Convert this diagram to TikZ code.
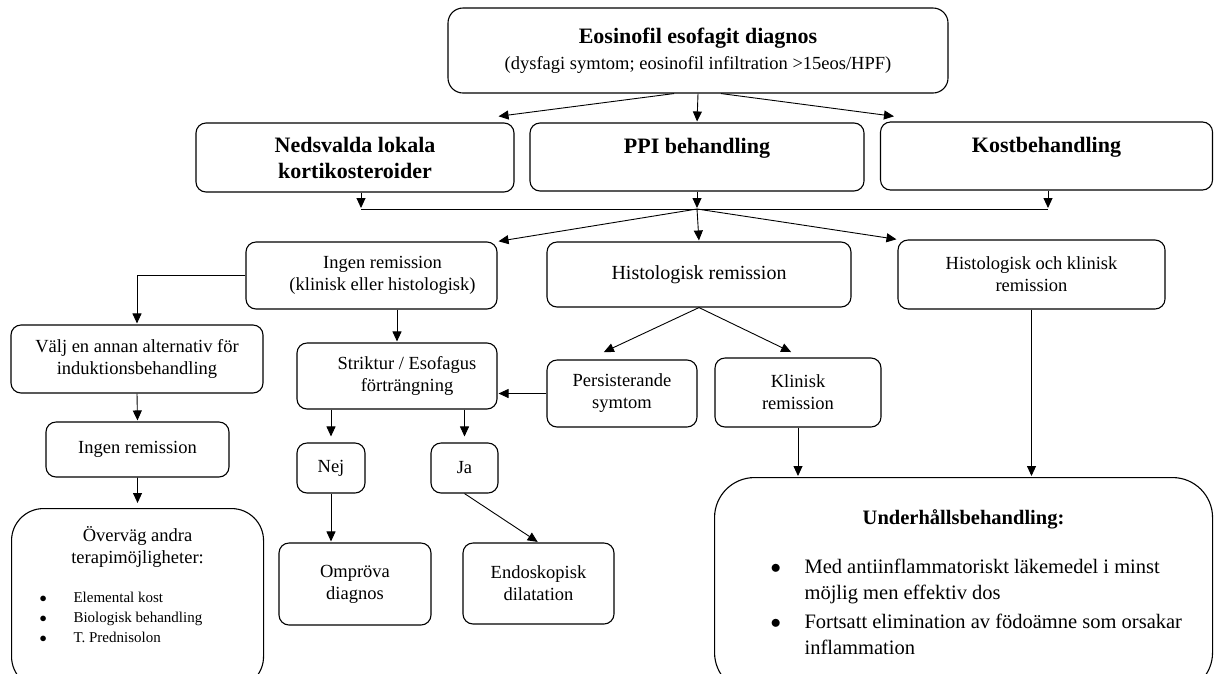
\documentclass[tikz,border=0pt]{standalone}
\usepackage{fontspec}
\setmainfont{Liberation Serif}
\usetikzlibrary{arrows.meta}
\begin{document}
\begin{tikzpicture}[x=1pt,y=-1pt,
  box/.style={draw,line width=1.1pt,rounded corners=10pt,align=center,inner sep=2pt,font=\fontsize{18.5}{22}\selectfont},
  headbox/.style={box,font=\fontsize{22}{26}\selectfont\bfseries},
  bigbox/.style={draw,line width=1.1pt,inner sep=0pt,anchor=north west},
  arr/.style={-{Triangle[length=10pt,width=9pt]},line width=0.9pt,shorten >=1pt},
  conn/.style={line width=0.9pt}]
\useasboundingbox (0,0) rectangle (1214,673);
\clip (0,0) rectangle (1214,673);

\node[headbox,rounded corners=15pt,minimum width=500pt,minimum height=85pt] (diag) at (698,50.5)
  {Eosinofil esofagit diagnos\\{\mdseries\fontsize{18.5}{22}\selectfont(dysfagi symtom; eosinofil infiltration >15eos/HPF)}};
\node[headbox,minimum width=318pt,minimum height=69pt] (ned) at (355,157.5) {Nedsvalda lokala\\kortikosteroider};
\node[headbox,minimum width=334pt,minimum height=68pt,text depth=22pt] (ppi) at (697,157) {PPI behandling};
\node[headbox,minimum width=332pt,minimum height=68pt,text depth=22pt] (kost) at (1046.5,156) {Kostbehandling};

\coordinate (m1) at (361,209);
\coordinate (m2) at (697,209);
\coordinate (m3) at (1048,209);

\node[box,minimum width=251pt,minimum height=67pt] (ingen) at (371.5,275.5) {\hspace*{22pt}Ingen remission\\\hspace*{22pt}(klinisk eller histologisk)};
\node[box,font=\fontsize{20}{24}\selectfont,minimum width=304pt,minimum height=65pt] (histo) at (699,274.5) {Histologisk remission};
\node[box,minimum width=267pt,minimum height=69pt] (hk) at (1031.5,274.5) {Histologisk och klinisk\\remission};

\node[box,minimum width=252pt,minimum height=68pt] (valj) at (137,359) {Välj en annan alternativ för\\induktionsbehandling};
\node[box,minimum width=183pt,minimum height=55pt] (ingen2) at (137.5,449.5) {Ingen remission};
\node[bigbox,rounded corners=32pt] (overvag) at (11,508) {\begin{minipage}[t][180pt][t]{252pt}
\vspace*{18pt}
{\centering\fontsize{18.5}{22}\selectfont\strut Överväg andra\\terapimöjligheter:\par}
\vspace{19pt}
{\fontsize{15}{20}\selectfont
\hspace*{28pt}\makebox[34pt][l]{$\bullet$}Elemental kost\\
\hspace*{28pt}\makebox[34pt][l]{$\bullet$}Biologisk behandling\\
\hspace*{28pt}\makebox[34pt][l]{$\bullet$}T. Prednisolon\par}
\end{minipage}};

\node[box,minimum width=200pt,minimum height=66pt] (strikt) at (397,376) {\hspace*{20pt}Striktur / Esofagus\\\hspace*{20pt}förträngning};
\node[box,minimum width=150pt,minimum height=67pt] (pers) at (622,393.5) {Persisterande\\symtom};
\node[box,minimum width=166pt,minimum height=69pt] (klin) at (798,392.5) {Klinisk\\remission};
\node[box,minimum width=68pt,minimum height=50pt] (nej) at (331,468) {Nej};
\node[box,minimum width=67pt,minimum height=50pt] (ja) at (464.5,468) {Ja};
\node[box,minimum width=152pt,minimum height=82pt] (ompr) at (355,584) {Ompröva\\diagnos};
\node[box,minimum width=151pt,minimum height=81pt] (endo) at (538.5,583.5) {Endoskopisk\\dilatation};
\node[bigbox,rounded corners=40pt] (underh) at (714,477) {\begin{minipage}[t][215pt][t]{498pt}
\vspace*{28pt}
{\centering\fontsize{20.5}{27}\selectfont\bfseries\strut Underhållsbehandling:\par}
\vspace{23pt}
{\fontsize{20.5}{26}\selectfont
\hspace*{56pt}\makebox[34pt][l]{$\bullet$}Med antiinflammatoriskt läkemedel i minst\\
\hspace*{90pt}möjlig men effektiv dos\\[3pt]
\hspace*{56pt}\makebox[34pt][l]{$\bullet$}Fortsatt elimination av födoämne som orsakar\\
\hspace*{90pt}inflammation\par}
\end{minipage}};

\draw[arr] ([xshift=-24pt]diag.south) -- ([xshift=-17pt,yshift=6pt]ned.north east);
\draw[arr] (diag.south) -- (ppi.north);
\draw[arr] ([xshift=23pt]diag.south) -- ([xshift=15pt,yshift=5pt]kost.north west);
\draw[conn] (m1) -- (m3);
\draw[arr] (ned.south -| m1) -- (m1);
\draw[arr] (ppi.south) -- (m2);
\draw[arr] (kost.south -| m3) -- (m3);
\foreach \t in {ingen.north east,histo.north,hk.north west}
{
	\draw[arr] (m2) -- (\t);
}
\draw[arr] (ingen.west) -| (valj.north);
\draw[arr] (valj.south) -- (ingen2.north);
\draw[arr,shorten >=5pt] (ingen2.south) -- (overvag.north);
\draw[arr] (ingen.south -| strikt.north) -- (strikt.north);
\draw[arr] (histo.south) -- ([xshift=-19pt,yshift=7pt]pers.north);
\draw[arr] (histo.south) -- ([xshift=-6pt,yshift=5pt]klin.north);
\draw[arr] (pers.west) -- (pers.west -| strikt.east);
\foreach \t in {nej,ja}
{
	\draw[arr,shorten >=6pt] (strikt.south -| \t.north) -- (\t.north);
}
\draw[arr] (nej.south) -- (nej.south |- ompr.north);
\draw[arr] (ja.south) -- (endo.north);
\draw[arr] (klin.south) -- (klin.south |- underh.north);
\draw[arr] (hk.south) -- (hk.south |- underh.north);
\end{tikzpicture}
\end{document}
